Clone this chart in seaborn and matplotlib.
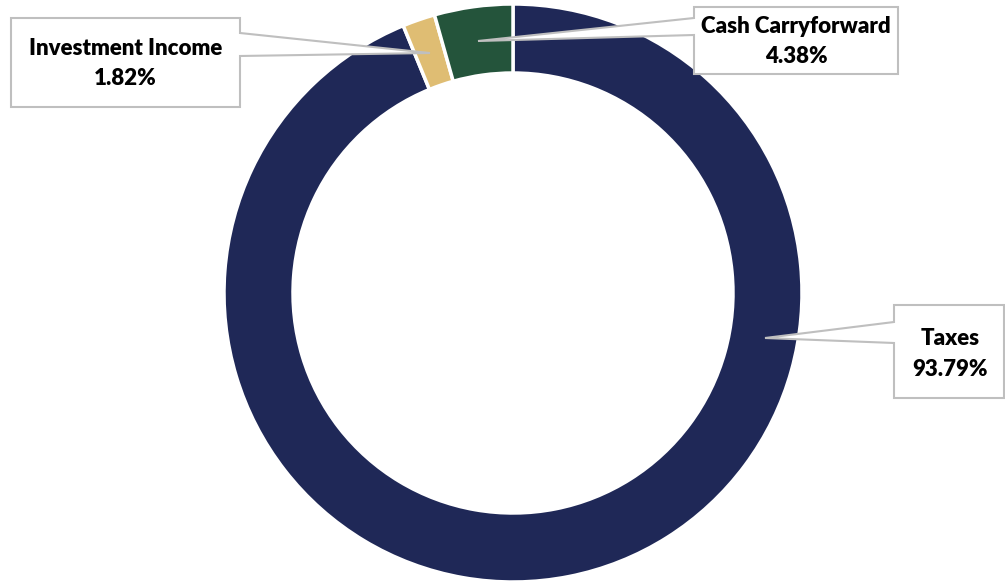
import matplotlib
matplotlib.use('Agg')
import matplotlib.pyplot as plt
import seaborn as sns
from matplotlib.patches import Polygon

SOURCES = ['Taxes', 'Investment Income', 'Cash Carryforward']
SHARES = [93.79, 1.82, 4.38]
COLORS = ['#1F2857', '#DFBD73', '#24543B']

sns.set_theme(style='white')
plt.rcParams['font.family'] = ['Lato', 'DejaVu Sans']

W, H = 1005, 583
fig = plt.figure(figsize=(W / 100, H / 100), dpi=100)
ax = fig.add_axes([0, 0, 1, 1])

ax.pie(SHARES, colors=sns.color_palette(COLORS), startangle=90, counterclock=False,
       center=(513, H - 293), radius=289,
       wedgeprops=dict(width=69, edgecolor='white', linewidth=2.5))
# pie() resets the limits, so set them afterwards
ax.set_xlim(0, W)
ax.set_ylim(0, H)
ax.set_aspect('equal')
ax.axis('off')

# callout boxes: (left, top, right, bottom) in pixels, pointer side, pointer y's, anchor
callouts = {
    'Investment Income': ((11, 18, 240, 107), 'right', (33, 56), (430, 53)),
    'Cash Carryforward': ((694, 7, 898, 74), 'left', (18, 35), (478, 41)),
    'Taxes': ((894, 305, 1004, 398), 'left', (322, 343), (765, 338)),
}


def fy(y):
    return H - y


for name, share in zip(SOURCES, SHARES):
    (l, t, r, b), side, (p1, p2), (ax_, ay) = callouts[name]
    if side == 'left':
        pts = [(r, t), (r, b), (l, b), (l, p2), (ax_, ay), (l, p1), (l, t)]
    else:
        pts = [(l, t), (r, t), (r, p1), (ax_, ay), (r, p2), (r, b), (l, b)]
    pts = [(x, fy(y)) for x, y in pts]
    ax.add_patch(Polygon(pts, closed=True, facecolor='white', edgecolor='#BFBFBF',
                         linewidth=1.5, zorder=5))
    cx = (l + r) / 2 if name != 'Taxes' else 950
    cy = (t + b) / 2 + 1 if name != 'Taxes' else 354
    ax.text(cx, fy(cy), f'{name}\n{share:.2f}%', ha='center', va='center',
            fontsize=16, fontweight='heavy', color='black', linespacing=1.55, zorder=6)

fig.savefig('out.png', dpi=100)
